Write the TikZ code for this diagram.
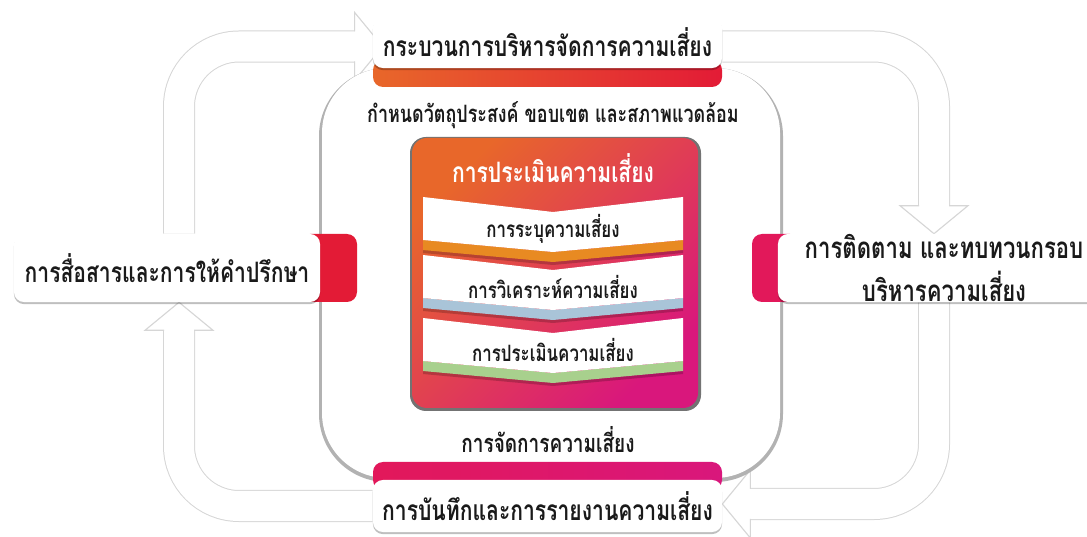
\documentclass[tikz,border=0pt]{standalone}
\usepackage{fontspec}
\newfontfamily\thaifont[Script=Thai,FakeStretch=0.75]{Loma}
\usetikzlibrary{calc,shadows}
\definecolor{riskorange}{HTML}{E8672A}
\definecolor{riskred}{HTML}{E31B36}
\definecolor{riskcrimson}{HTML}{E2185A}
\definecolor{riskmagenta}{HTML}{D9177C}
\definecolor{stripgold}{HTML}{E88A22}
\definecolor{stripblue}{HTML}{A9C4D8}
\definecolor{stripgreen}{HTML}{A8D08D}
\definecolor{inktext}{HTML}{1A1A1A}
\pgfdeclarelayer{arrows}
\pgfdeclarelayer{stage}
\pgfsetlayers{arrows,stage,main}
\tikzset{
  card/.style={fill=white, rounded corners=0.25cm, inner sep=0pt, align=center, text=inktext,
    font=\thaifont\bfseries\fontsize{20}{31}\selectfont,
    drop shadow={shadow xshift=0pt, shadow yshift=-1.5pt, opacity=0.25, fill=black}},
  steptext/.style={text=inktext, font=\thaifont\bfseries\fontsize{16}{19}\selectfont},
  headtext/.style={text=inktext, font=\thaifont\bfseries\fontsize{17}{20}\selectfont},
  shaftedge/.style={line width=0.8cm, draw=black!16, rounded corners=1.5cm},
  shaftbody/.style={line width=0.75cm, draw=white, rounded corners=1.5cm},
  tiphead/.pic={\filldraw[fill=white, draw=black!16, line width=0.8pt] (-28,-15) -- (-28,-34) -- (0,0) -- (-28,34) -- (-28,15);}
}
\begin{document}
\begin{tikzpicture}[x=0.025cm,y=-0.025cm]
\useasboundingbox (0,0) rectangle (1087,537);

\node[card, minimum width=8.725cm, minimum height=1.275cm] (plan) at (547.5,42.5) {กระบวนการบริหารจัดการความเสี่ยง};
\node[card, minimum width=8.725cm, minimum height=1.3cm] (record) at (547.5,506) {การบันทึกและการรายงานความเสี่ยง};
\node[card, minimum width=7.65cm, minimum height=1.7cm] (comm) at (167,268) {การสื่อสารและการให้คำปรึกษา};
\node[card, minimum width=8.3cm, minimum height=1.7cm, font=\thaifont\bfseries\fontsize{21}{31}\selectfont] (monitor) at (944,268) {การติดตาม และทบทวนกรอบ\\บริหารความเสี่ยง};

\coordinate (t1) at ([xshift=0.25cm,yshift=-0.1cm]plan.west);
\coordinate (t2) at ([xshift=-0.25cm]monitor.north);
\coordinate (t3) at ([yshift=0.05cm]record.east);
\coordinate (t4) at ([xshift=0.3cm]comm.south);

\begin{pgfonlayer}{arrows}
  \draw[shaftedge] ([xshift=0.3cm]comm.north) |- ($(t1)+(-25,0)$);
  \draw[shaftbody] ([xshift=0.3cm]comm.north) |- ($(t1)+(-25,0)$);
  \draw[shaftedge] ([yshift=-0.1cm]plan.east) -| ($(t2)+(0,-25)$);
  \draw[shaftbody] ([yshift=-0.1cm]plan.east) -| ($(t2)+(0,-25)$);
  \draw[shaftedge] ([xshift=-0.25cm]monitor.south) |- ($(t3)+(25,0)$);
  \draw[shaftbody] ([xshift=-0.25cm]monitor.south) |- ($(t3)+(25,0)$);
  \draw[shaftedge] (record.west) -| ($(t4)+(0,25)$);
  \draw[shaftbody] (record.west) -| ($(t4)+(0,25)$);
  \pic at (t1) {tiphead};
  \pic[rotate=-90] at (t2) {tiphead};
  \pic[rotate=180] at (t3) {tiphead};
  \pic[rotate=90] at (t4) {tiphead};
\end{pgfonlayer}

\begin{pgfonlayer}{stage}
  \fill[black!30, rounded corners=1.7cm] (319,68) rectangle (783,482);
  \fill[white, rounded corners=1.625cm] (322,68) rectangle (780,478);
  \shade[left color=riskorange, right color=riskred, rounded corners=0.25cm] (373,60) rectangle (722,87);
  \shade[left color=riskcrimson, right color=riskmagenta, rounded corners=0.25cm] (373,462) rectangle (722,490);
  \fill[riskred, rounded corners=0.25cm] (300,234) rectangle (357,302);
  \fill[riskcrimson, rounded corners=0.25cm] (752,234) rectangle (800,302);
\end{pgfonlayer}

\node[headtext] (context) at (553,115) {กำหนดวัตถุประสงค์ ขอบเขต และสภาพแวดล้อม};
\node[headtext, font=\thaifont\bfseries\fontsize{18}{21}\selectfont] (treat) at (548,440) {การจัดการความเสี่ยง};

\fill[black!55, rounded corners=0.4cm] (410,137) rectangle (701,411);
\shade[top color=riskorange, middle color=riskred, bottom color=riskmagenta, shading angle=45, rounded corners=0.375cm] (412,138) rectangle (698,408);
\node[steptext, text=white, font=\thaifont\bfseries\fontsize{20}{24}\selectfont] (assess) at (553,168) {การประเมินความเสี่ยง};

\foreach \T/\tone/\txt/\n in {197/stripgold/การระบุความเสี่ยง/1, 255/stripblue/การวิเคราะห์ความเสี่ยง/2, 318/stripgreen/การประเมินความเสี่ยง/3} {
  \fill[black, opacity=0.2] (423,\T+46) -- (553,\T+58) -- (683,\T+46) -- (683,\T+56) -- (553,\T+68) -- (423,\T+56) -- cycle;
  \fill[\tone] (423,\T+43) -- (553,\T+55) -- (683,\T+43) -- (683,\T+53) -- (553,\T+65) -- (423,\T+53) -- cycle;
  \fill[white] (423,\T) -- (553,\T+15) -- (683,\T) -- (683,\T+43) -- (553,\T+55) -- (423,\T+43) -- cycle;
  \node[steptext] (step\n) at (553,\T+32) {\txt};
}
\end{tikzpicture}
\end{document}
